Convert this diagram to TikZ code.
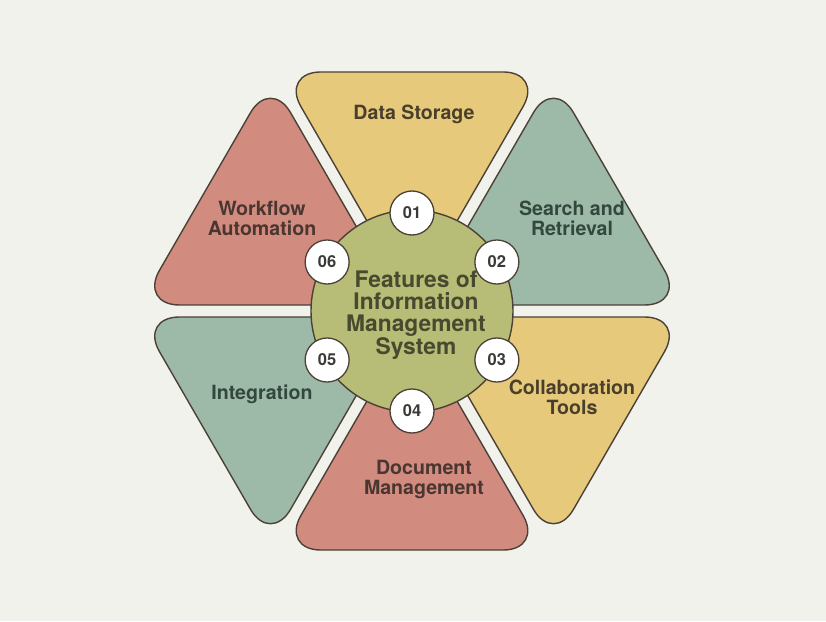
\documentclass[tikz,border=0pt]{standalone}
\usepackage{fontspec}
\setmainfont{TeX Gyre Heros}
\usetikzlibrary{calc}
\definecolor{bg}{HTML}{F2F2EC}
\definecolor{edge}{HTML}{4B4136}
\definecolor{ylw}{HTML}{E6C97B}
\definecolor{grn}{HTML}{9DBAA8}
\definecolor{red}{HTML}{D18B7F}
\definecolor{olive}{HTML}{B7BD76}
\definecolor{tylw}{HTML}{4A3F2A}
\definecolor{tgrn}{HTML}{33473F}
\definecolor{tred}{HTML}{4A3631}
\definecolor{tolv}{HTML}{474A2E}
\definecolor{tnum}{HTML}{3A3A36}
\newcommand\hexsector[2]{%
  \draw[tri, fill=#2] (#1:12) -- ($(#1-30:276)+(#1+90:6.93)$) -- ($(#1+30:276)+(#1-90:6.93)$) -- cycle;}
\begin{document}
\begin{tikzpicture}[x=1pt,y=1pt,
  tri/.style={draw=edge, line width=1.4pt, rounded corners=40pt, line join=round},
  lbl/.style={font=\bfseries\fontsize{19.6}{20}\selectfont, align=center},
  numc/.style={circle, draw=edge, line width=1.3pt, fill=white, minimum size=44pt, inner sep=0pt,
    font=\bfseries\fontsize{16.5}{16}\selectfont, text=tnum}]
\fill[bg] (-412,-310) rectangle (414,311);
\useasboundingbox (-412,-310) rectangle (414,311);
\hexsector{90}{ylw}
\hexsector{30}{grn}
\hexsector{-30}{ylw}
\hexsector{-90}{red}
\hexsector{-150}{grn}
\hexsector{150}{red}
\node[circle, draw=edge, line width=1.4pt, fill=olive, minimum size=202pt, inner sep=0pt] (hub) at (0,0) {};
\node[lbl, font=\bfseries\fontsize{22.8}{21.8}\selectfont, text=tolv] (hubtxt) at (4,-4) {Features of\\Information\\Management\\System};
\node[lbl, text=tylw] (l1) at (2,197) {Data Storage};
\node[lbl, text=tgrn] (l2) at (160,93) {Search and\\Retrieval};
\node[lbl, text=tylw] (l3) at (160,-86) {Collaboration\\Tools};
\node[lbl, text=tred] (l4) at (12,-168) {Document\\Management};
\node[lbl, text=tgrn] (l5) at (-150,-83) {Integration};
\node[lbl, text=tred] (l6) at (-150,93) {Workflow\\Automation};
\node[numc] (n1) at (90:98) {01};
\node[numc] (n2) at (30:98) {02};
\node[numc] (n3) at (-30:98) {03};
\node[numc] (n4) at (-90:100) {04};
\node[numc] (n5) at (-150:98) {05};
\node[numc] (n6) at (150:98) {06};
\end{tikzpicture}
\end{document}
